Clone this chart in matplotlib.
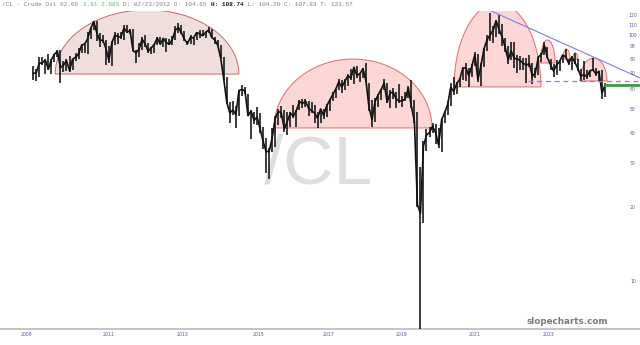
import numpy as np
import pandas as pd
import matplotlib
matplotlib.use("Agg")
import matplotlib.pyplot as plt
from matplotlib.patches import Polygon

# monthly /CL prices, Aug 2009 .. May 2025
months = pd.date_range("2009-08-01", "2025-05-01", freq="MS")

closes = [
    69.96, 70.61, 77.00, 77.28, 79.36,                                                  # 2009
    72.89, 79.66, 83.76, 86.15, 73.97, 75.63, 78.95, 71.92, 79.97, 81.43, 84.11, 91.38,  # 2010
    92.19, 96.97, 106.72, 113.93, 102.70, 95.42, 95.70, 88.81, 79.20, 93.19, 100.36, 98.83,
    98.48, 107.07, 103.02, 104.87, 86.53, 84.96, 88.06, 96.47, 92.19, 86.24, 88.91, 91.82,
    97.49, 92.05, 97.23, 93.46, 91.97, 96.56, 105.03, 107.65, 102.33, 96.38, 92.72, 98.42,
    97.49, 102.59, 101.58, 99.74, 102.71, 105.37, 98.17, 95.96, 91.16, 80.54, 66.15, 53.27,
    48.24, 49.76, 47.60, 59.63, 60.30, 59.47, 47.12, 49.20, 45.09, 46.59, 41.65, 37.04,
    33.62, 33.75, 38.34, 45.92, 49.10, 48.33, 41.60, 44.70, 48.24, 46.86, 49.44, 53.72,
    52.81, 54.01, 50.60, 49.33, 48.32, 46.04, 50.17, 47.23, 51.67, 54.38, 57.40, 60.42,
    64.73, 61.64, 64.94, 68.57, 67.04, 74.15, 68.76, 69.80, 73.25, 65.31, 50.93, 45.41,
    53.79, 57.22, 60.14, 63.91, 53.50, 58.47, 58.58, 55.10, 54.07, 54.18, 55.17, 61.06,
    51.56, 44.76, 20.48, 18.84, 35.49, 39.27, 40.27, 42.61, 40.22, 35.79, 45.34, 48.52,
    52.20, 61.50, 59.16, 63.58, 66.32, 73.47, 73.95, 68.50, 75.03, 83.57, 66.18, 75.21,
    88.15, 95.72, 100.28, 104.69, 114.67, 105.76, 98.62, 89.55, 79.49, 86.53, 80.55, 80.26,
    78.87, 77.05, 75.67, 76.78, 68.09, 70.64, 81.80, 83.63, 90.79, 81.02, 75.96, 71.65,
    75.85, 78.26, 83.17, 81.93, 76.99, 81.54, 77.91, 73.55, 68.17, 69.26, 68.00, 71.72,
    72.53, 69.76, 71.48, 58.21, 62.69,                                                  # 2025
]
highs = [
    75.0, 72.9, 82.0, 82.0, 80.0,
    83.9, 80.5, 83.8, 87.1, 87.0, 79.0, 80.0, 82.6, 80.0, 84.4, 88.6, 91.6,
    92.6, 103.4, 106.9, 114.0, 114.8, 102.5, 100.6, 95.5, 90.5, 94.6, 103.4, 102.4,
    103.7, 110.0, 110.5, 106.3, 106.0, 87.0, 92.9, 98.3, 100.4, 93.0, 89.5, 91.9,
    98.2, 98.2, 97.5, 97.8, 97.0, 99.0, 108.9, 112.2, 110.7, 104.0, 95.0, 100.8,
    98.0, 103.4, 105.2, 104.9, 104.5, 107.7, 106.4, 98.7, 96.0, 91.6, 81.4, 68.0,
    53.5, 54.2, 51.6, 59.9, 62.6, 61.8, 58.0, 49.5, 49.0, 50.9, 48.4, 42.2,
    38.4, 34.8, 41.9, 46.8, 50.2, 51.7, 49.5, 49.0, 48.6, 51.9, 49.9, 54.5,
    55.2, 54.9, 54.0, 53.8, 52.0, 48.9, 50.4, 50.2, 52.8, 54.8, 59.0, 60.5,
    66.7, 66.0, 66.6, 69.6, 72.8, 74.5, 75.3, 70.3, 73.8, 76.9, 64.0, 54.5,
    55.7, 57.9, 60.4, 66.6, 63.8, 59.9, 60.9, 58.8, 63.4, 56.9, 58.8, 62.3,
    65.7, 54.7, 48.7, 29.0, 37.0, 41.6, 42.5, 43.8, 43.4, 41.8, 46.3, 49.3,
    53.9, 63.8, 67.9, 64.9, 67.0, 74.5, 76.9, 74.0, 76.7, 85.4, 84.0, 77.0,
    88.8, 100.5, 123.7, 109.0, 115.0, 121.0, 111.5, 97.6, 90.4, 93.6, 93.7, 83.3,
    82.7, 80.6, 81.0, 83.5, 77.0, 74.0, 82.0, 84.9, 93.7, 89.8, 80.0, 76.2,
    79.3, 79.4, 83.1, 87.7, 80.5, 82.1, 84.5, 80.2, 73.0, 78.5, 72.0, 72.3,
    80.8, 74.0, 71.8, 72.0, 63.9,
]
lows = [
    66.0, 65.1, 68.0, 75.5, 69.5,
    72.4, 69.5, 78.0, 82.0, 64.2, 70.8, 71.3, 70.8, 72.6, 79.0, 80.0, 84.7,
    85.1, 84.0, 96.5, 105.0, 95.0, 89.6, 93.0, 75.7, 77.1, 74.9, 91.0, 92.5,
    97.0, 95.5, 102.0, 101.0, 86.0, 77.3, 82.0, 87.0, 90.0, 85.0, 84.0, 85.0,
    91.0, 92.0, 89.5, 85.6, 91.0, 91.1, 96.0, 102.2, 101.5, 95.0, 91.8, 92.5,
    91.2, 96.0, 97.4, 99.0, 98.0, 101.8, 98.0, 92.5, 90.4, 79.8, 65.7, 52.4,
    44.2, 47.4, 42.0, 47.0, 56.5, 57.5, 47.0, 37.8, 43.5, 43.0, 40.0, 34.5,
    27.6, 26.1, 33.5, 35.2, 43.0, 46.0, 40.6, 39.2, 42.5, 46.0, 42.2, 49.5,
    50.7, 51.2, 47.1, 48.2, 43.8, 42.1, 44.2, 45.6, 46.5, 49.1, 54.1, 55.8,
    59.8, 58.1, 60.0, 62.0, 66.0, 63.6, 67.0, 64.4, 67.0, 64.8, 49.4, 42.4,
    44.4, 51.2, 54.5, 59.9, 53.0, 50.6, 55.2, 50.5, 52.9, 50.9, 54.0, 55.4,
    50.6, 44.0, 20.1, -37.63, 17.3, 33.7, 38.7, 40.0, 36.1, 34.9, 33.6, 44.1,
    47.2, 51.6, 57.3, 57.6, 61.6, 66.1, 65.0, 61.7, 67.6, 74.9, 64.4, 62.4,
    74.3, 86.5, 95.0, 93.0, 98.2, 101.5, 90.6, 85.7, 76.3, 79.3, 73.6, 70.1,
    72.5, 72.3, 64.1, 74.5, 63.6, 66.8, 69.0, 77.6, 83.5, 80.6, 72.4, 68.0,
    69.3, 71.4, 77.5, 81.2, 76.0, 72.5, 76.5, 71.5, 65.3, 66.0, 66.5, 67.5,
    71.5, 68.2, 65.2, 55.1, 56.2,
]

last_price = 62.69
x_labels = ['2009', '2011', '2013', '2015', '2017', '2019', '2021', '2023']
x_label_pos = [2009.43, 2011.71, 2013.75, 2015.82, 2017.75, 2019.78, 2021.77, 2023.81]
y_ticks = [10, 20, 30, 40, 50, 60, 70, 80, 90, 100, 110, 120]

# drawn arcs: start, end, base price, top price
arch_x0 = [2010.23, 2016.26, 2021.22, 2023.59, 2024.22, 2024.49, 2024.69]
arch_x1 = [2015.29, 2020.61, 2023.61, 2024.00, 2024.41, 2024.63, 2025.43]
arch_base = [69.6, 42.0, 61.7, 77.2, 80.1, 80.1, 65.2]
arch_top = [127.0, 80.1, 135.0, 95.8, 88.0, 84.8, 80.9]

# trend line and support levels
trend_x = [2022.24, 2026.34]
trend_y = [125.7, 67.1]
dash_x = [2023.25, 2026.34]
dash_level = 65.2

t = months.year + (months.month - 0.5) / 12.0

fig = plt.figure(figsize=(6.4, 3.45), dpi=100)
ax = fig.add_axes([0, 16 / 345, 1, 318 / 345])
ax.set_yscale('log')
ax.set_xlim(2008.71, 2026.34)
ax.set_ylim(6.38, 125.7)

# watermark
ax.text(0.497, 0.515, '/CL', transform=ax.transAxes, ha='center', va='center',
        fontsize=50, color='#dedede', family='Liberation Sans', zorder=0)

# arcs
for i in range(len(arch_x0)):
    th = np.linspace(0, np.pi, 120)
    cx = (arch_x0[i] + arch_x1[i]) / 2
    a = (arch_x1[i] - arch_x0[i]) / 2
    lb = np.log10(arch_base[i])
    lt = np.log10(arch_top[i])
    xs = cx + a * np.cos(th)
    ys = 10 ** (lb + (lt - lb) * np.sin(th))
    if i == 0:
        fc, ec = '#f0dedd', '#c46a6a'
    else:
        fc, ec = '#fdd6d6', '#e06a6a'
    ax.add_patch(Polygon(np.column_stack([xs, ys]), closed=True, facecolor=fc,
                         edgecolor=ec, lw=0.7, zorder=1))

# price
ax.vlines(t, lows, highs, color='#1a1a1a', lw=1.2, zorder=3)
ax.plot(t, closes, color='#111111', lw=1.2, zorder=3)

ax.plot(trend_x, trend_y, color='#7f7fe0', lw=0.8, zorder=4)
ax.plot(dash_x, [dash_level, dash_level], color='#8a7fe0', lw=0.9, ls=(0, (4, 3)), zorder=4)
ax.plot([t[-1], 2026.34], [last_price, last_price], color='#3f9a3f', lw=2, zorder=4)

# axes cosmetics
for s in ['top', 'left', 'right']:
    ax.spines[s].set_visible(False)
ax.spines['bottom'].set_color('#bbbbbb')
ax.spines['bottom'].set_linewidth(1.2)
ax.set_yticks([])
ax.yaxis.set_minor_locator(matplotlib.ticker.NullLocator())
ax.set_xticks(x_label_pos)
ax.set_xticklabels(x_labels)
ax.tick_params(axis='x', length=0, labelsize=3.3, labelcolor='#55559a', pad=2.5)

for v in y_ticks:
    ax.text(0.989, v, str(v), transform=ax.get_yaxis_transform(), ha='center',
            va='center', fontsize=3.3, color='#55559a', zorder=5)

ax.text(0.886, 0.025, 'slopecharts.com', transform=ax.transAxes, ha='center',
        va='center', fontsize=6.3, fontweight='bold', color='#7a7a7a', zorder=5)

# header line, monospace so segments can be placed by char count
segs = [("/CL - Crude Oil 62.69 ", '#808080', 'normal'),
        ("1.81 2.98% ", '#5cb85c', 'normal'),
        ("D: 02/23/2012 O: 104.65 ", '#808080', 'normal'),
        ("H: 108.74", '#222222', 'bold'),
        (" L: 104.26 C: 107.83 T: 121.57", '#808080', 'normal')]
cw = 3.67
pos = 2
for txt, col, wt in segs:
    fig.text(pos / 640, 1 - 5 / 345, txt, ha='left', va='center', fontsize=4.4,
             family='Liberation Mono', color=col, fontweight=wt)
    pos += len(txt) * cw

fig.savefig('out.png', dpi=100)
